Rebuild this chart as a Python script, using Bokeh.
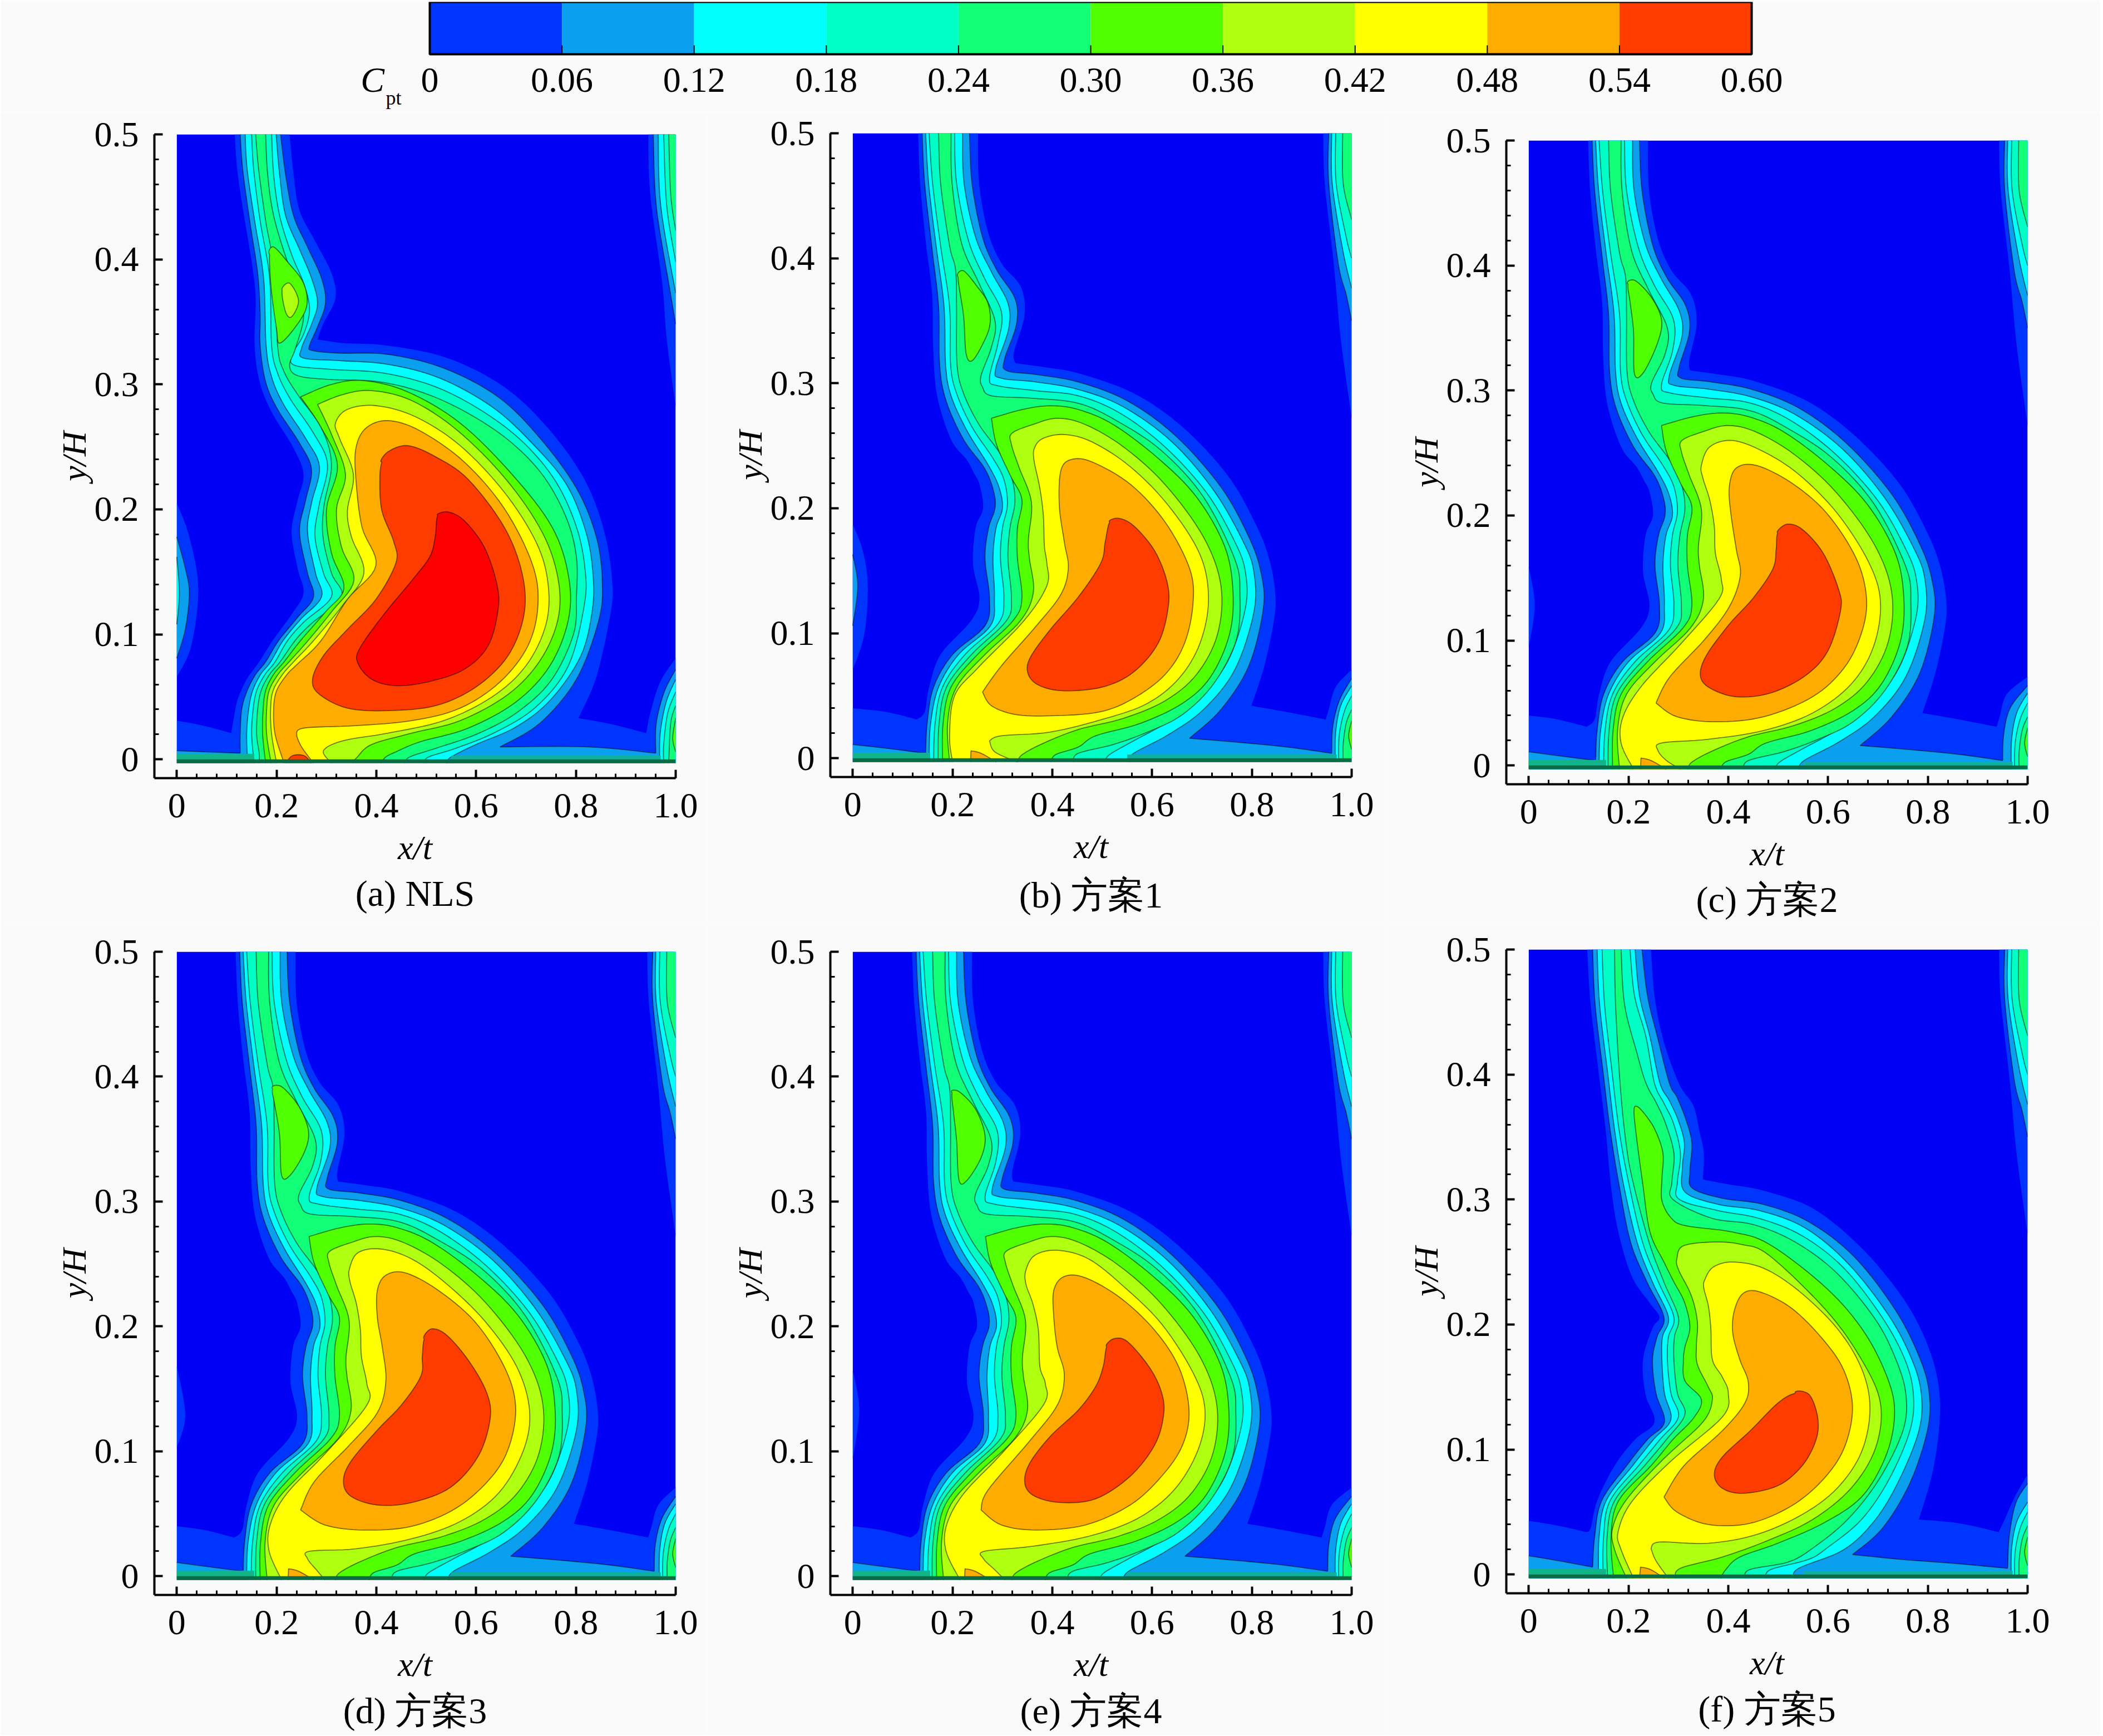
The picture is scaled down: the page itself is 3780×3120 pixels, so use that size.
from bokeh.plotting import figure
from bokeh.layouts import column, row
from bokeh.models import Range1d, FixedTicker, Title
from bokeh.core.properties import value
from bokeh.embed import file_html
from bokeh.resources import INLINE

LEVELS = [0, 0.06, 0.12, 0.18, 0.24, 0.30, 0.36, 0.42, 0.48, 0.54, 0.60]
LEVEL_LABELS = ["0", "0.06", "0.12", "0.18", "0.24", "0.30", "0.36", "0.42", "0.48", "0.54", "0.60"]
BAND_COLORS = ["#0035FF", "#0A9FEF", "#00FFFF", "#00FFC4", "#12FF78", "#50FF00", "#AFFF10", "#FFFF00", "#FFAC00", "#FF3C00"]
CORE_COLOR = "#FF0000"
BELOW_COLOR = "#0000F5"
PAGE = "#FAFAFA"
FONT = "Liberation Serif"
FLOOR = -0.003

# ---- contour outlines, (x/t, y/H) ----
B_L0 = [(.131,.5),(.135,.46),(.146,.414),(.159,.371),(.161,.329),(.169,.29),(.197,.255),(.228,.239),(.243,.228),(.254,.219),(.261,.2),(.246,.184),(.241,.155),(.254,.128),(.237,.11),(.176,.083),(.153,.057),(.144,.037),(.128,.031),(.128,.031),(.068,.037),(0,.04),(0,-.003),(1,-.003),(1,.071),(.968,.057),(.954,.039),(.948,.031),(.948,.031),(.87,.037),(.799,.042),(.799,.042),(.825,.074),(.844,.11),(.847,.131),(.835,.159),(.808,.187),(.752,.226),(.661,.265),(.563,.292),(.452,.308),(.382,.313),(.326,.316),(.326,.316),(.323,.325),(.344,.354),(.337,.377),(.298,.396),(.271,.421),(.253,.46),(.251,.5)]
B_L1 = [(.139,.5),(.144,.46),(.159,.407),(.172,.361),(.174,.315),(.187,.286),(.222,.255),(.264,.232),(.282,.214),(.285,.2),(.272,.184),(.265,.16),(.274,.128),(.265,.106),(.2,.083),(.162,.057),(.149,.028),(.146,.004),(.146,.004),(.068,.008),(0,.011),(0,-.003),(1,-.003),(1,.064),(.975,.046),(.962,.025),(.96,.004),(.96,.004),(.87,.009),(.766,.013),(.675,.016),(.675,.016),(.738,.039),(.794,.074),(.823,.12),(.818,.149),(.794,.177),(.738,.217),(.647,.258),(.55,.286),(.452,.301),(.368,.307),(.309,.31),(.304,.319),(.328,.347),(.325,.368),(.288,.391),(.26,.417),(.239,.46),(.234,.5)]
B_L2 = [(.146,.5),(.152,.46),(.167,.41),(.183,.361),(.186,.315),(.197,.29),(.229,.262),(.271,.235),(.293,.217),(.3,.2),(.287,.184),(.281,.16),(.284,.128),(.276,.106),(.212,.083),(.172,.057),(.156,.028),(.153,.002),(.153,-.003),(.553,-.003),(.563,.004),(.633,.019),(.703,.039),(.766,.071),(.804,.117),(.804,.149),(.783,.173),(.724,.214),(.64,.253),(.543,.281),(.452,.295),(.368,.301),(.298,.304),(.286,.311),(.312,.343),(.311,.364),(.278,.389),(.246,.417),(.223,.46),(.22,.5)]
B_L3 = [(.153,.5),(.16,.46),(.176,.41),(.194,.361),(.196,.315),(.208,.292),(.239,.265),(.281,.24),(.303,.223),(.31,.203),(.3,.184),(.296,.16),(.303,.128),(.292,.108),(.225,.083),(.18,.057),(.165,.028),(.162,-.003),(.505,-.003),(.515,.003),(.563,.014),(.626,.028),(.696,.05),(.752,.078),(.787,.12),(.787,.149),(.766,.173),(.71,.212),(.626,.249),(.536,.276),(.452,.29),(.368,.294),(.291,.298),(.274,.304),(.291,.332),(.298,.357),(.264,.384),(.232,.414),(.208,.46),(.204,.5)]
B_L4 = [(.172,.5),(.176,.46),(.194,.41),(.206,.391),(.208,.361),(.209,.315),(.222,.292),(.253,.267),(.295,.244),(.318,.225),(.325,.205),(.315,.184),(.311,.16),(.318,.128),(.308,.11),(.238,.083),(.188,.057),(.173,.028),(.171,-.003),(.442,-.003),(.452,.004),(.522,.011),(.591,.021),(.661,.035),(.724,.06),(.769,.095),(.776,.131),(.766,.159),(.703,.209),(.619,.246),(.529,.27),(.452,.284),(.361,.288),(.278,.29),(.26,.297),(.257,.306),(.278,.329),(.285,.35),(.253,.38),(.218,.412),(.199,.46),(.197,.5)]
B_L5 = [(.278,.272),(.278,.272),(.34,.279),(.396,.282),(.452,.279),(.522,.267),(.612,.24),(.689,.209),(.745,.17),(.762,.134),(.755,.099),(.717,.065),(.661,.044),(.577,.028),(.487,.018),(.452,.009),(.407,.003),(.397,-.003),(.18,-.003),(.181,.028),(.197,.057),(.25,.083),(.321,.11),(.339,.128),(.33,.16),(.33,.184),(.339,.207),(.316,.226),(.288,.251)]
B_L6 = [(.319,.26),(.361,.267),(.41,.272),(.466,.267),(.543,.249),(.626,.219),(.703,.177),(.738,.138),(.731,.099),(.689,.067),(.626,.046),(.543,.032),(.452,.023),(.382,.012),(.34,.003),(.33,-.003),(.194,-.003),(.19,.028),(.208,.057),(.265,.083),(.336,.11),(.362,.133),(.354,.16),(.352,.175),(.358,.205),(.333,.233),(.318,.251)]
B_L7 = [(.365,.249),(.382,.256),(.424,.259),(.48,.253),(.557,.233),(.633,.202),(.696,.163),(.713,.127),(.696,.092),(.654,.064),(.591,.044),(.508,.032),(.396,.021),(.298,.018),(.274,.014),(.274,.014),(.285,.005),(.33,-.003),(.2,-.003),(.194,.018),(.204,.05),(.25,.072),(.343,.11),(.389,.138),(.389,.156),(.384,.17),(.382,.194),(.375,.216),(.363,.239)]
B_L8 = [(.417,.23),(.438,.239),(.48,.237),(.557,.219),(.626,.189),(.675,.152),(.682,.124),(.665,.092),(.626,.067),(.563,.048),(.494,.037),(.396,.034),(.326,.035),(.278,.042),(.26,.053),(.26,.053),(.298,.074),(.368,.106),(.417,.131),(.432,.152),(.424,.173),(.414,.202)]
B_L9 = [(.515,.189),(.532,.192),(.563,.186),(.605,.166),(.63,.141),(.632,.12),(.612,.092),(.563,.069),(.501,.057),(.424,.054),(.375,.058),(.352,.067),(.355,.08),(.396,.103),(.452,.129),(.497,.156),(.506,.173)]
B_BLOB = [(.211,.385),(.222,.39),(.25,.377),(.271,.364),(.275,.347),(.26,.331),(.239,.318),(.227,.324),(.222,.354)]
B_SPOT = [(.236,-.003),(.237,.006),(.237,.006),(.257,.004),(.288,-.003)]

TR_L0 = [(.943,.5),(.946,.46),(.964,.396),(.978,.336),(1,.272),(1,.5)]
TR_L1 = [(.954,.5),(.954,.46),(.973,.396),(.989,.371),(1,.35),(1,.5)]
TR_L2 = [(.96,.5),(.961,.46),(.982,.407),(1,.376),(1,.5)]
TR_L3 = [(.968,.5),(.969,.46),(.989,.417),(1,.4),(1,.5)]
TR_L4 = [(.982,.5),(.983,.46),(1,.431),(1,.5)]
BR_L2 = [(1,.058),(.978,.042),(.968,.021),(.967,-.003),(1,-.003)]
BR_L3 = [(1,.05),(.985,.037),(.975,.018),(.974,-.003),(1,-.003)]
BR_L4 = [(1,.039),(.989,.028),(.983,.011),(.983,-.003),(1,-.003)]
BR_L5 = [(1,.03),(.994,.018),(1,.007)]
B_LL0 = [(0,.187),(.02,.166),(.03,.138),(.023,.099),(0,.071)]
B_LL1 = [(0,.163),(.01,.138),(0,.106)]
C_LL0 = [(0,.159),(.012,.128),(0,.095)]
D_LL0 = [(0,.168),(.017,.129),(0,.103)]
E_LL0 = [(0,.165),(.013,.133),(0,.094)]

A_L0 = [(.116,.5),(.121,.472),(.133,.439),(.15,.398),(.158,.369),(.156,.331),(.166,.302),(.19,.278),(.234,.249),(.254,.228),(.242,.207),(.23,.182),(.242,.153),(.254,.133),(.23,.116),(.192,.095),(.165,.078),(.14,.064),(.122,.048),(.115,.035),(.109,.021),(.109,.021),(.053,.027),(0,.031),(0,-.003),(1,-.003),(1,.081),(.969,.062),(.949,.037),(.941,.021),(.941,.021),(.873,.028),(.805,.033),(.805,.033),(.841,.066),(.869,.116),(.873,.141),(.857,.182),(.817,.224),(.744,.265),(.656,.298),(.543,.321),(.423,.331),(.334,.333),(.282,.336),(.282,.336),(.294,.349),(.318,.369),(.31,.389),(.278,.414),(.246,.439),(.234,.468),(.226,.5)]
A_L1 = [(.127,.5),(.132,.472),(.146,.431),(.162,.389),(.167,.356),(.167,.331),(.178,.302),(.202,.28),(.246,.253),(.27,.232),(.258,.207),(.246,.182),(.262,.149),(.274,.13),(.243,.114),(.204,.095),(.178,.078),(.158,.068),(.141,.055),(.13,.04),(.127,.02),(.127,.005),(.127,.005),(.061,.006),(0,.007),(0,-.003),(1,-.003),(1,.072),(.977,.054),(.961,.029),(.96,.005),(.96,.005),(.825,.01),(.648,.01),(.648,.01),(.728,.029),(.801,.064),(.845,.11),(.853,.141),(.841,.178),(.801,.217),(.728,.257),(.644,.29),(.535,.313),(.423,.324),(.326,.325),(.272,.327),(.266,.331),(.282,.346),(.298,.365),(.29,.385),(.262,.41),(.234,.435),(.218,.468),(.208,.5)]
A_L2 = [(.137,.5),(.141,.472),(.156,.431),(.174,.385),(.179,.331),(.19,.306),(.214,.284),(.258,.257),(.286,.234),(.27,.205),(.262,.182),(.278,.149),(.29,.13),(.248,.112),(.213,.095),(.188,.078),(.168,.068),(.152,.055),(.144,.04),(.14,.02),(.142,-.003),(.54,-.003),(.55,.002),(.6,.012),(.68,.026),(.75,.048),(.81,.083),(.833,.12),(.834,.149),(.82,.182),(.781,.22),(.712,.253),(.632,.282),(.527,.305),(.423,.316),(.326,.319),(.254,.321),(.25,.329),(.27,.348),(.282,.365),(.27,.385),(.246,.408),(.218,.435),(.206,.468),(.199,.5)]
A_L3 = [(.15,.5),(.154,.472),(.167,.431),(.186,.385),(.19,.331),(.202,.309),(.228,.288),(.274,.261),(.302,.236),(.285,.203),(.277,.178),(.294,.149),(.31,.13),(.255,.11),(.222,.095),(.197,.078),(.177,.068),(.16,.055),(.153,.04),(.15,.02),(.155,-.003),(.495,-.003),(.505,.002),(.56,.009),(.64,.022),(.72,.042),(.785,.075),(.817,.124),(.818,.153),(.801,.186),(.76,.222),(.696,.253),(.615,.278),(.519,.298),(.415,.309),(.31,.312),(.238,.315),(.23,.323),(.254,.34),(.266,.36),(.254,.381),(.23,.404),(.206,.435),(.194,.468),(.19,.5)]
A_L4 = [(.158,.5),(.164,.472),(.178,.431),(.188,.41),(.196,.389),(.202,.331),(.214,.311),(.242,.292),(.29,.265),(.31,.236),(.295,.203),(.293,.178),(.31,.149),(.33,.13),(.268,.108),(.237,.095),(.207,.078),(.186,.068),(.169,.055),(.162,.04),(.16,.02),(.165,.005),(.165,-.003),(.457,-.003),(.467,.002),(.52,.009),(.6,.02),(.68,.037),(.75,.063),(.795,.1),(.801,.13),(.801,.162),(.781,.193),(.736,.226),(.672,.253),(.592,.275),(.503,.292),(.407,.302),(.302,.304),(.242,.307),(.226,.315),(.238,.329),(.254,.354),(.242,.377),(.22,.4),(.194,.435),(.182,.468),(.178,.5)]
A_L5 = [(.248,.29),(.248,.29),(.31,.3),(.375,.303),(.463,.294),(.568,.269),(.672,.228),(.752,.186),(.785,.147),(.785,.112),(.748,.075),(.68,.046),(.584,.025),(.487,.014),(.439,.006),(.419,.002),(.409,-.003),(.178,-.003),(.172,.02),(.173,.04),(.178,.055),(.194,.068),(.215,.078),(.248,.095),(.298,.118),(.335,.137),(.31,.165),(.3,.2),(.322,.235),(.29,.265)]
A_L6 = [(.282,.284),(.282,.284),(.334,.292),(.391,.295),(.471,.287),(.563,.263),(.66,.224),(.732,.182),(.764,.145),(.764,.112),(.728,.079),(.664,.052),(.568,.031),(.471,.021),(.391,.012),(.362,.002),(.352,-.003),(.189,-.003),(.18,.02),(.18,.04),(.185,.055),(.203,.068),(.225,.078),(.263,.095),(.31,.118),(.355,.143),(.33,.17),(.32,.2),(.338,.228),(.31,.26)]
A_L7 = [(.318,.269),(.342,.28),(.399,.283),(.479,.274),(.568,.251),(.656,.214),(.72,.174),(.744,.141),(.74,.108),(.7,.075),(.632,.05),(.535,.031),(.423,.021),(.334,.015),(.294,.007),(.31,-.003),(.2,-.003),(.19,.02),(.188,.04),(.193,.055),(.212,.068),(.234,.078),(.274,.095),(.33,.122),(.375,.149),(.35,.178),(.342,.199),(.354,.228),(.326,.257)]
A_L8 = [(.359,.249),(.379,.265),(.423,.271),(.487,.263),(.576,.238),(.656,.201),(.712,.157),(.724,.124),(.704,.091),(.648,.062),(.568,.041),(.471,.031),(.359,.027),(.254,.025),(.24,.019),(.24,.019),(.25,.01),(.274,-.003),(.215,-.003),(.197,.02),(.194,.04),(.2,.055),(.221,.068),(.241,.076),(.289,.095),(.342,.128),(.399,.155),(.371,.186),(.359,.224)]
A_L9 = [(.411,.238),(.423,.246),(.463,.251),(.519,.242),(.584,.224),(.656,.186),(.692,.149),(.696,.116),(.664,.083),(.6,.058),(.519,.043),(.423,.039),(.342,.041),(.286,.052),(.272,.064),(.294,.083),(.342,.104),(.399,.128),(.439,.157),(.435,.174),(.411,.199),(.407,.224)]
A_L10 = [(.523,.195),(.543,.198),(.576,.191),(.616,.17),(.641,.141),(.644,.12),(.624,.091),(.576,.072),(.503,.062),(.439,.059),(.391,.064),(.363,.077),(.367,.089),(.415,.116),(.471,.143),(.507,.162),(.518,.178)]
A_BLOB5 = [(.186,.404),(.194,.41),(.222,.398),(.254,.381),(.26,.362),(.234,.344),(.206,.333),(.2,.344),(.189,.377)]
A_BLOB6 = [(.211,.375),(.226,.381),(.244,.367),(.23,.354),(.218,.358)]
A_SPOT = [(.218,-.003),(.232,.003),(.255,.003),(.27,-.003)]
A_TR0 = [(.945,.5),(.949,.452),(.973,.381),(.982,.336),(1,.282),(1,.5)]
A_TR1 = [(.955,.5),(.961,.443),(.986,.381),(1,.348),(1,.5)]
A_TR2 = [(.965,.5),(.97,.443),(1,.373),(1,.5)]
A_TR3 = [(.976,.5),(.982,.443),(1,.398),(1,.5)]
A_TR4 = [(.986,.5),(.99,.452),(1,.423),(1,.5)]
A_LL0 = [(0,.205),(.025,.178),(.043,.137),(.029,.091),(0,.066)]
A_LL1 = [(0,.178),(.017,.153),(.025,.133),(.017,.104),(0,.081)]
A_LL2 = [(0,.162),(.005,.133),(0,.108)]
A_BR2 = [(1,.064),(.981,.046),(.969,.021),(.968,-.003),(1,-.003)]
A_BR3 = [(1,.054),(.984,.037),(.976,.012),(.976,-.003),(1,-.003)]
A_BR4 = [(1,.043),(.99,.029),(.986,-.003),(1,-.003)]
A_BR5 = [(1,.033),(.994,.017),(1,.006)]

C_L7 = [(.346,.24),(.363,.255),(.409,.26),(.471,.251),(.541,.233),(.618,.202),(.681,.163),(.705,.131),(.691,.095),(.646,.065),(.569,.042),(.471,.028),(.36,.021),(.266,.018),(.259,.012),(.276,.004),(.304,-.003),(.21,-.003),(.185,.018),(.189,.039),(.227,.064),(.304,.097),(.381,.133),(.386,.149),(.374,.17),(.372,.191),(.363,.212),(.349,.23)]
C_L8 = [(.402,.223),(.416,.238),(.457,.24),(.527,.226),(.597,.202),(.656,.166),(.677,.134),(.667,.106),(.632,.078),(.569,.055),(.471,.039),(.374,.035),(.297,.039),(.255,.05),(.255,.05),(.283,.071),(.353,.101),(.402,.127),(.424,.152),(.416,.173),(.405,.202)]
C_L9 = [(.499,.186),(.517,.193),(.548,.189),(.59,.17),(.621,.141),(.625,.124),(.6,.092),(.555,.072),(.485,.058),(.416,.055),(.363,.062),(.344,.072),(.356,.088),(.402,.113),(.45,.134),(.489,.157),(.496,.173)]
C_BLOB = [(.199,.385),(.213,.388),(.245,.375),(.266,.357),(.259,.339),(.231,.315),(.212,.313),(.21,.347),(.203,.371)]

D_L7 = [(.346,.246),(.363,.259),(.409,.262),(.471,.254),(.541,.234),(.618,.204),(.681,.168),(.707,.133),(.695,.101),(.646,.067),(.569,.044),(.471,.03),(.36,.022),(.266,.02),(.262,.014),(.28,.005),(.297,-.003),(.21,-.003),(.185,.02),(.187,.041),(.22,.066),(.297,.098),(.381,.137),(.381,.154),(.37,.176),(.368,.197),(.36,.218),(.347,.236)]
D_L8 = [(.402,.229),(.419,.241),(.457,.243),(.52,.23),(.597,.204),(.656,.168),(.679,.137),(.667,.105),(.632,.08),(.562,.055),(.471,.04),(.374,.037),(.297,.041),(.248,.053),(.248,.053),(.276,.076),(.346,.105),(.402,.131),(.419,.156),(.412,.183),(.402,.207)]
D_L9 = [(.496,.19),(.51,.198),(.541,.193),(.586,.172),(.621,.147),(.628,.126),(.604,.096),(.548,.071),(.471,.059),(.402,.057),(.349,.064),(.334,.076),(.349,.092),(.402,.117),(.45,.137),(.489,.16),(.492,.176)]
D_BLOB = [(.192,.39),(.21,.392),(.245,.376),(.264,.356),(.255,.339),(.227,.321),(.21,.321),(.206,.353),(.196,.378)]

E_L7 = [(.347,.245),(.365,.257),(.41,.261),(.473,.254),(.543,.232),(.619,.202),(.682,.163),(.706,.133),(.692,.101),(.644,.069),(.57,.046),(.473,.032),(.361,.024),(.264,.02),(.262,.014),(.285,.005),(.305,-.003),(.215,-.003),(.187,.02),(.188,.041),(.222,.066),(.298,.098),(.382,.137),(.386,.154),(.375,.168),(.372,.197),(.361,.218),(.347,.234)]
E_L8 = [(.403,.229),(.424,.24),(.466,.239),(.536,.223),(.605,.197),(.654,.167),(.674,.133),(.661,.105),(.619,.08),(.556,.057),(.466,.041),(.368,.037),(.298,.041),(.257,.053),(.257,.053),(.271,.069),(.354,.108),(.41,.137),(.424,.161),(.41,.183),(.403,.207)]
E_L9 = [(.509,.184),(.522,.19),(.55,.188),(.595,.167),(.619,.147),(.623,.129),(.605,.105),(.556,.08),(.487,.062),(.417,.059),(.365,.064),(.345,.074),(.354,.09),(.396,.112),(.452,.133),(.487,.152),(.502,.168)]
E_BLOB = [(.199,.387),(.213,.388),(.246,.374),(.265,.353),(.257,.335),(.229,.317),(.213,.317),(.208,.349),(.202,.371)]

F_L0 = [(.117,.5),(.124,.456),(.14,.402),(.154,.356),(.165,.31),(.179,.275),(.206,.239),(.241,.218),(.262,.206),(.248,.197),(.229,.172),(.234,.144),(.252,.122),(.213,.108),(.172,.087),(.137,.059),(.124,.037),(.114,.034),(.114,.034),(.06,.039),(0,.043),(0,-.003),(1,-.003),(1,.08),(.974,.062),(.954,.044),(.942,.034),(.942,.034),(.862,.041),(.782,.044),(.782,.044),(.81,.083),(.824,.126),(.817,.161),(.785,.197),(.736,.229),(.66,.264),(.569,.293),(.471,.307),(.402,.312),(.349,.316),(.349,.316),(.351,.337),(.343,.353),(.33,.375),(.302,.392),(.27,.427),(.252,.463),(.245,.5)]
F_L1 = [(.128,.5),(.133,.456),(.149,.402),(.163,.356),(.18,.314),(.204,.266),(.237,.234),(.271,.206),(.257,.19),(.248,.171),(.255,.145),(.272,.122),(.238,.108),(.196,.087),(.146,.059),(.132,.03),(.128,.006),(.128,.006),(.06,.011),(0,.015),(0,-.003),(1,-.003),(1,.073),(.976,.057),(.963,.03),(.96,.005),(.96,.005),(.85,.009),(.75,.012),(.649,.016),(.649,.016),(.709,.037),(.764,.073),(.799,.115),(.803,.144),(.785,.172),(.736,.211),(.653,.254),(.562,.282),(.471,.296),(.388,.301),(.328,.309),(.323,.322),(.327,.345),(.315,.364),(.297,.382),(.282,.393),(.258,.43),(.238,.463),(.227,.5)]
F_L2 = [(.137,.5),(.142,.456),(.158,.402),(.172,.356),(.189,.314),(.217,.266),(.248,.234),(.28,.206),(.268,.19),(.267,.171),(.272,.145),(.285,.124),(.25,.108),(.208,.087),(.155,.059),(.141,.03),(.14,-.003),(.531,-.003),(.541,.005),(.632,.02),(.695,.044),(.743,.076),(.782,.115),(.787,.144),(.768,.172),(.722,.207),(.642,.248),(.555,.277),(.464,.291),(.381,.296),(.313,.306),(.308,.326),(.312,.345),(.3,.363),(.282,.379),(.263,.393),(.243,.43),(.222,.463),(.213,.5)]
F_L3 = [(.147,.5),(.152,.456),(.167,.402),(.181,.356),(.2,.314),(.228,.266),(.26,.234),(.291,.206),(.28,.19),(.278,.171),(.285,.145),(.3,.126),(.263,.108),(.22,.087),(.163,.059),(.15,.03),(.149,-.003),(.475,-.003),(.485,.004),(.56,.012),(.597,.021),(.667,.044),(.722,.076),(.764,.115),(.771,.144),(.754,.172),(.708,.206),(.632,.245),(.548,.271),(.461,.285),(.381,.291),(.302,.3),(.298,.314),(.304,.337),(.29,.361),(.271,.377),(.252,.393),(.235,.43),(.212,.463),(.203,.5)]
F_L4 = [(.172,.5),(.174,.456),(.183,.393),(.195,.345),(.209,.314),(.241,.266),(.271,.234),(.3,.206),(.292,.19),(.291,.171),(.298,.145),(.313,.128),(.276,.108),(.232,.087),(.172,.059),(.157,.03),(.158,-.003),(.433,-.003),(.443,.004),(.52,.01),(.569,.021),(.639,.044),(.702,.076),(.75,.115),(.756,.144),(.736,.172),(.695,.204),(.618,.241),(.534,.266),(.45,.28),(.367,.285),(.289,.3),(.287,.314),(.291,.337),(.274,.361),(.256,.377),(.235,.393),(.217,.417),(.192,.456),(.185,.5)]
F_L5 = [(.211,.372),(.219,.374),(.237,.366),(.254,.355),(.269,.337),(.267,.317),(.267,.299),(.286,.285),(.315,.279),(.408,.274),(.483,.264),(.597,.229),(.674,.193),(.722,.154),(.733,.126),(.715,.094),(.667,.062),(.59,.041),(.499,.025),(.423,.014),(.395,.004),(.385,-.003),(.17,-.003),(.165,.03),(.18,.059),(.245,.087),(.289,.108),(.33,.125),(.346,.14),(.313,.155),(.31,.171),(.313,.182),(.323,.198),(.312,.218),(.291,.234),(.271,.25),(.243,.274),(.228,.314),(.215,.353)]
F_L6 = [(.31,.263),(.371,.266),(.427,.264),(.483,.255),(.597,.211),(.667,.172),(.705,.137),(.695,.101),(.646,.069),(.569,.044),(.478,.027),(.388,.014),(.304,.005),(.294,-.003),(.196,-.003),(.172,.02),(.168,.037),(.196,.06),(.269,.092),(.349,.122),(.368,.14),(.36,.15),(.338,.168),(.336,.183),(.338,.202),(.326,.223),(.3,.244),(.297,.253)]
F_L7 = [(.353,.236),(.37,.246),(.409,.25),(.471,.245),(.541,.227),(.618,.197),(.667,.165),(.684,.133),(.667,.098),(.618,.069),(.548,.048),(.457,.032),(.36,.025),(.262,.026),(.245,.021),(.245,.021),(.255,.011),(.28,-.003),(.21,-.003),(.185,.02),(.179,.034),(.206,.058),(.283,.09),(.388,.126),(.4,.145),(.388,.158),(.368,.172),(.365,.197),(.36,.215),(.351,.229)]
F_L8 = [(.412,.211),(.43,.225),(.464,.226),(.527,.213),(.59,.188),(.632,.163),(.649,.133),(.632,.101),(.59,.076),(.527,.055),(.444,.041),(.36,.04),(.297,.05),(.271,.062),(.271,.062),(.311,.087),(.388,.115),(.433,.137),(.44,.154),(.423,.172),(.409,.193)]
F_L9 = [(.534,.145),(.562,.144),(.579,.126),(.576,.108),(.548,.087),(.499,.071),(.43,.065),(.388,.069),(.372,.08),(.388,.094),(.444,.115),(.499,.137)]
F_SPOT = [(.222,-.003),(.224,.006),(.224,.006),(.244,.004),(.272,-.003)]

# left-wake shift, bean shift, neck shift of the outer rings against panel (b)
C_SHIFT = (-.012, -.010, .011)
D_SHIFT = (-.013, -.003, .012)
E_SHIFT = (-.012, -.008, .009)
NO_SHIFT = (0, 0, 0)

FLOOR_BANDS = [(0, .155, .0045, "#12B48A"), (.55, .97, .003, "#10B0A0"), (0, 1, 0, "#0A6B45")]

X_TICKS = [0, .2, .4, .6, .8, 1]
X_LABELS = {0: "0", .2: "0.2", .4: "0.4", .6: "0.6", .8: "0.8", 1: "1.0"}
X_MINOR = [i * .04 for i in range(26)]
Y_TICKS = [0, .1, .2, .3, .4, .5]
Y_LABELS = {0: "0", .1: "0.1", .2: "0.2", .3: "0.3", .4: "0.4", .5: "0.5"}
Y_MINOR = [i * .02 for i in range(26)]


def on_edge(p):
    return p[0] <= 0 or p[0] >= 1 or p[1] >= .5 or p[1] <= FLOOR + 1e-6


def shift(poly, s):
    dl, dr, dn = s
    out = []
    for x, y in poly:
        if 0 < x < 1:
            t = min(max((x - .35) / .45, 0), 1)
            dx = dl + (dr - dl) * t
            if x > .25:
                dx += dn * max(1 - abs(y - .325) / .05, 0) * min((x - .25) / .04, 1)
            x = min(max(x + dx, 0), 1)
        out.append((x, y))
    return out


def catmull(run, n=8):
    if len(run) < 3:
        return list(run)
    pts = [run[0]] + list(run) + [run[-1]]
    out = []
    for i in range(1, len(pts) - 2):
        p0, p1, p2, p3 = pts[i - 1], pts[i], pts[i + 1], pts[i + 2]
        for k in range(n):
            t = k / n
            out.append(tuple(.5 * (2 * p1[j] + (p2[j] - p0[j]) * t + (2 * p0[j] - 5 * p1[j] + 4 * p2[j] - p3[j]) * t * t
                                   + (3 * p1[j] - p0[j] - 3 * p2[j] + p3[j]) * t ** 3) for j in (0, 1)))
    out.append(run[-1])
    return out


def outline(poly):
    """Smooth a read outline; edge points and doubled points stay sharp. Returns fill xy and contour runs."""
    pts, sharp = [], []
    for p in poly:
        if pts and pts[-1] == p:
            sharp[-1] = True
        else:
            pts.append(p)
            sharp.append(on_edge(p))
    if not any(sharp):
        closed = pts + pts[:3]
        wrap = [closed[-1]] + pts + pts[:2]
        out = []
        for i in range(1, len(wrap) - 2):
            seg = catmull([wrap[i - 1], wrap[i], wrap[i + 1], wrap[i + 2]])
            out += seg[8:16]
        out.append(out[0])
        return out, [out]
    s = sharp.index(True)
    pts, sharp = pts[s:] + pts[:s], sharp[s:] + sharp[:s]
    pts.append(pts[0])
    sharp.append(True)
    fill, runs, cur = [], [], [pts[0]]
    for p, f in zip(pts[1:], sharp[1:]):
        cur.append(p)
        if f:
            seg = catmull(cur)
            fill += seg[:-1]
            if not (len(cur) == 2 and on_edge(cur[0]) and on_edge(cur[1])):
                runs.append(seg)
            cur = [p]
    return fill, runs


def panel(layers, caption, w, h, left, top, right, gap):
    p = figure(width=w, height=h, output_backend="svg", toolbar_location=None,
               x_range=Range1d(-.045, 1.0), y_range=Range1d(-.015, .5),
               min_border_left=left, min_border_right=right, min_border_top=top,
               min_border_bottom=h - top - 1157, background_fill_color=PAGE, border_fill_color=PAGE,
               outline_line_color=None, frame_align=False)
    p.grid.visible = False
    p.quad(left=[0], right=[1], bottom=[FLOOR], top=[.5], fill_color=BELOW_COLOR, line_color=None)
    for level, poly in layers:
        color = CORE_COLOR if level == 10 else BAND_COLORS[level]
        fill, runs = outline(poly)
        p.patch([a for a, _ in fill], [b for _, b in fill], fill_color=color, line_color=None)
        if level >= 1:
            p.multi_line([[a for a, _ in r] for r in runs], [[b for _, b in r] for r in runs],
                         line_color="#000000", line_alpha=.5, line_width=1.8)
    for x0, x1, y1, color in FLOOR_BANDS:
        p.quad(left=[x0], right=[x1], bottom=[FLOOR], top=[y1], fill_color=color, line_color=None)
    for ax, ticks, minor, labels, name, standoff in (
            (p.xaxis[0], X_TICKS, X_MINOR, X_LABELS, "x/t", 17),
            (p.yaxis[0], Y_TICKS, Y_MINOR, Y_LABELS, "y/H", 0)):
        ax.ticker = FixedTicker(ticks=ticks, minor_ticks=minor)
        ax.major_label_overrides = labels
        ax.major_tick_in, ax.major_tick_out = 15, 0
        ax.minor_tick_in, ax.minor_tick_out = 8, 0
        ax.axis_line_width = 4
        ax.major_tick_line_width = 4
        ax.minor_tick_line_width = 3
        ax.major_label_text_font = FONT
        ax.major_label_text_font_size = "64px"
        ax.major_label_text_color = "#000000"
        ax.major_label_standoff = 28
        ax.axis_label = name
        ax.axis_label_text_font = FONT
        ax.axis_label_text_font_style = "italic"
        ax.axis_label_text_font_size = "62px"
        ax.axis_label_text_color = "#000000"
        ax.axis_label_standoff = standoff
    p.add_layout(Title(text=caption, align="center", text_font=FONT, text_font_size="66px",
                       text_font_style="normal", text_color="#000000", standoff=gap), "below")
    return p


def warped(s, own):
    base = [(i, shift(poly, s)) for i, poly in enumerate([B_L0, B_L1, B_L2, B_L3, B_L4])]
    tr = [(0, TR_L0), (1, TR_L1), (2, TR_L2), (3, TR_L3), (4, TR_L4)]
    br = [(2, BR_L2), (3, BR_L3), (4, BR_L4), (5, BR_L5)]
    return base + tr + br + own


panel_a = [(0, A_L0), (0, A_TR0), (0, A_LL0), (1, A_L1), (1, A_TR1), (1, A_LL1), (2, A_L2), (2, A_TR2), (2, A_LL2),
           (2, A_BR2), (3, A_L3), (3, A_TR3), (3, A_BR3), (4, A_L4), (4, A_TR4), (4, A_BR4), (5, A_BLOB5), (5, A_L5),
           (5, A_BR5), (6, A_BLOB6), (6, A_L6), (7, A_L7), (8, A_L8), (9, A_L9), (9, A_SPOT), (10, A_L10)]
panel_b = warped(NO_SHIFT, [(0, B_LL0), (1, B_LL1), (5, B_BLOB), (5, B_L5), (6, B_L6), (7, B_L7), (8, B_L8), (8, B_SPOT), (9, B_L9)])
panel_c = warped(C_SHIFT, [(0, C_LL0), (5, C_BLOB), (5, shift(B_L5, C_SHIFT)), (6, shift(B_L6, C_SHIFT)), (7, C_L7), (8, C_L8), (8, shift(B_SPOT, C_SHIFT)), (9, C_L9)])
panel_d = warped(D_SHIFT, [(0, D_LL0), (5, D_BLOB), (5, shift(B_L5, D_SHIFT)), (6, shift(B_L6, D_SHIFT)), (7, D_L7), (8, D_L8), (8, shift(B_SPOT, D_SHIFT)), (9, D_L9)])
panel_e = warped(E_SHIFT, [(0, E_LL0), (5, E_BLOB), (5, shift(B_L5, E_SHIFT)), (6, shift(B_L6, E_SHIFT)), (7, E_L7), (8, E_L8), (8, shift(B_SPOT, E_SHIFT)), (9, E_L9)])
panel_f = [(0, F_L0), (0, TR_L0), (1, F_L1), (1, TR_L1), (2, F_L2), (2, TR_L2), (2, BR_L2), (3, F_L3), (3, TR_L3), (3, BR_L3),
           (4, F_L4), (4, TR_L4), (4, BR_L4), (5, F_L5), (5, BR_L5), (6, F_L6), (7, F_L7), (8, F_L8), (8, F_SPOT), (9, F_L9)]

# colour bar: the frame runs past the bar so that the Cpt label stays inside it
BAR_LEFT, BAR_RIGHT, BAR_TOP, BAR_BASE = 772, 3148, 3, 97
per_x = (BAR_RIGHT - BAR_LEFT) / .6
per_y = BAR_BASE - BAR_TOP
bar = figure(width=3775, height=200, output_backend="svg", toolbar_location=None,
             x_range=Range1d(-(BAR_LEFT - 600) / per_x, (3400 - BAR_LEFT) / per_x),
             y_range=Range1d(-(200 - BAR_BASE) / per_y, 1),
             min_border_left=600, min_border_right=3775 - 3400, min_border_top=BAR_TOP, min_border_bottom=0,
             background_fill_color=PAGE, border_fill_color=PAGE, outline_line_color=None, frame_align=False)
bar.grid.visible = False
bar.xaxis.visible = False
bar.yaxis.visible = False
bar.quad(left=LEVELS[:-1], right=LEVELS[1:], bottom=0, top=1, fill_color=BAND_COLORS, line_color=None)
bar.quad(left=[0], right=[.6], bottom=[0], top=[1], fill_color=None, line_color="#000000", line_width=4)
bar.segment(x0=LEVELS[1:-1], x1=LEVELS[1:-1], y0=[0] * 9, y1=[.17] * 9, line_color="#000000", line_width=2)
bar.text(x=LEVELS, y=[-.49] * 11, text=LEVEL_LABELS, text_font=value(FONT), text_font_size="64px",
         text_color="#000000", text_align="center", text_baseline="middle")
bar.text(x=[-.026], y=[-.49], text=["C"], text_font=value(FONT), text_font_style="italic", text_font_size="64px",
         text_color="#000000", text_align="center", text_baseline="middle")
bar.text(x=[-.0164], y=[-.83], text=["pt"], text_font=value(FONT), text_font_size="36px",
         text_color="#000000", text_align="center", text_baseline="middle")

row1 = row(panel(panel_a, "(a) NLS", 1270, 1460, 277, 41, 1270 - 1214, 14),
           panel(panel_b, "(b) 方案1", 1220, 1460, 1492 - 1270, 39, 2490 - 2429, 24),
           panel(panel_c, "(c) 方案2", 1285, 1460, 2707 - 2490, 52, 3775 - 3644, 14))
row2 = row(panel(panel_d, "(d) 方案3", 1270, 1459, 277, 50, 1270 - 1214, 17),
           panel(panel_e, "(e) 方案4", 1220, 1459, 1492 - 1270, 50, 2490 - 2429, 17),
           panel(panel_f, "(f) 方案5", 1285, 1459, 2707 - 2490, 46, 3775 - 3644, 17))
page = column(bar, row1, row2, spacing=0)

html = file_html(page, INLINE)
html = html.replace("<body>", '<body style="margin:0;background:%s">' % PAGE, 1)
open("out.html", "w").write(html)
